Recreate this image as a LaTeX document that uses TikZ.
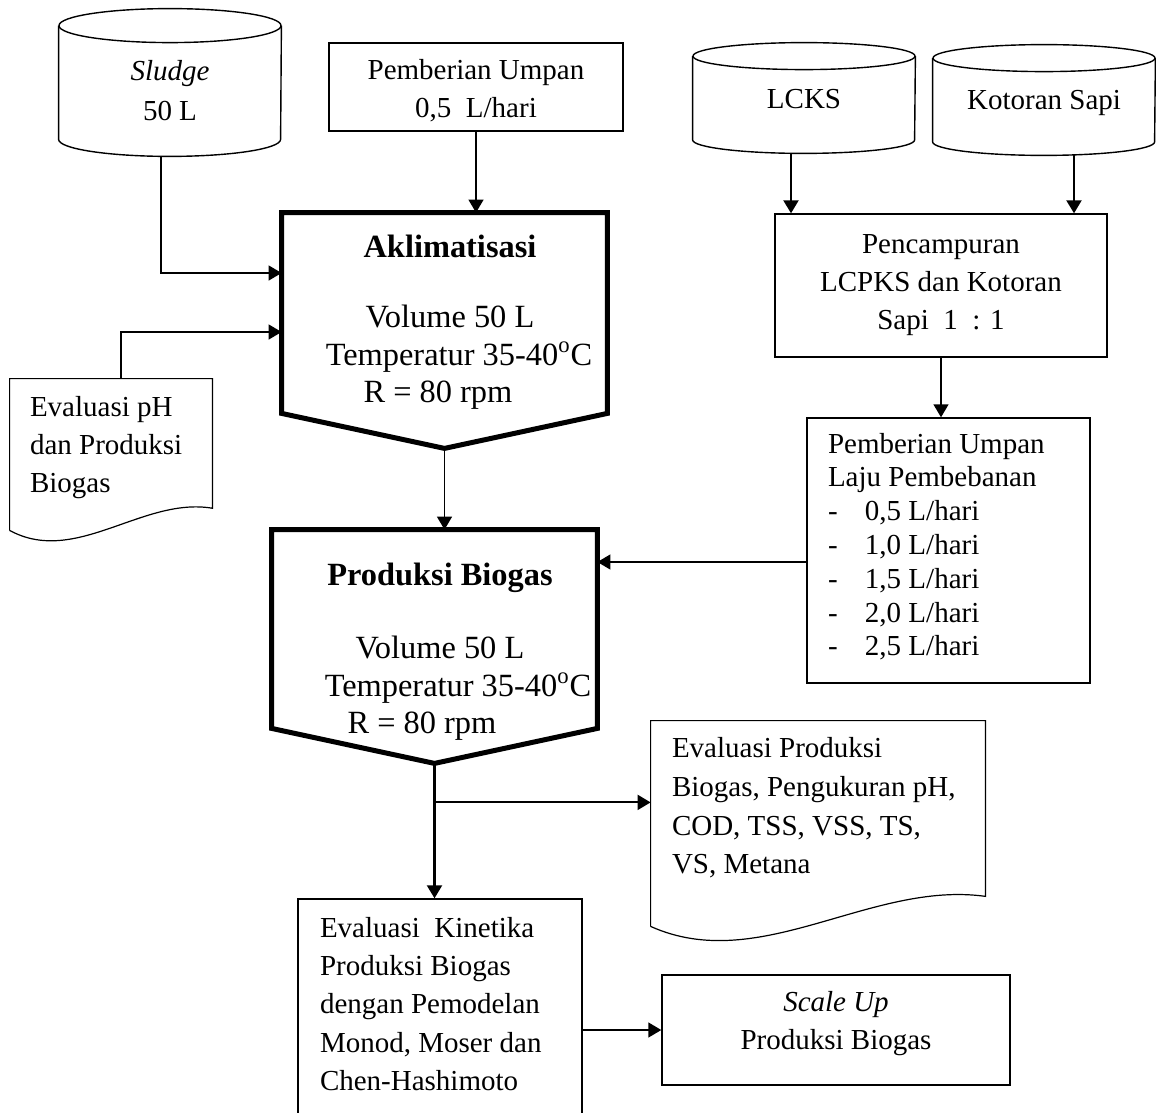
\documentclass[tikz,border=0pt]{standalone}
\usepackage{fontspec}
\setmainfont{Liberation Serif}
\usetikzlibrary{arrows.meta,calc,positioning}

\newcommand{\rate}[1]{\makebox[18.5pt][l]{-}#1 L/hari}
\newcommand{\lowstrut}[1]{\rule[-#1]{0pt}{#1}}

\begin{document}
\begin{tikzpicture}[x=0.5pt,y=0.5pt,>={Triangle[length=6.5pt,width=7.5pt]},
    every node/.style={font=\fontsize{14.5pt}{19pt}\selectfont}]
    \tikzstyle{procbox}=[rectangle,draw,line width=0.7pt,inner sep=0pt,align=center]
    \tikzstyle{drum}=[rectangle,inner sep=0pt,align=center,minimum width=111pt]
    \tikzstyle{penta}=[rectangle,inner sep=0pt,minimum width=162.5pt]
    \tikzstyle{pentatext}=[align=center,xshift=2.75pt,font=\fontsize{16.2pt}{18.75pt}\selectfont]
    \tikzstyle{doc}=[rectangle,inner sep=0pt]
    \tikzstyle{flow}=[->,line width=0.7pt]
    \tikzstyle{boldflow}=[->,line width=1.1pt]

    \useasboundingbox (0,0) rectangle (1156,-1113);

    % tank nodes
    \node[drum,minimum height=65pt,font=\fontsize{14.5pt}{20pt}\selectfont] (sludge) at (170,-91) {\textit{Sludge}\\50 L};
    \node[drum,minimum height=48.25pt] (lcks) at (804,-104.75) {LCKS\lowstrut{6pt}};
    \node[drum,minimum height=48.25pt] (kotoran) at (1044,-106.75) {Kotoran Sapi\lowstrut{7.1pt}};
    \foreach \n/\ry in {sludge/8.5pt,lcks/6.75pt,kotoran/6.75pt} {
      \draw[line width=0.7pt] (\n.north west) -- ([yshift=\ry]\n.south west)
        arc[start angle=180,end angle=360,x radius=55.5pt,y radius=\ry] -- (\n.north east);
      \draw[line width=0.7pt] (\n.north) ellipse[x radius=55.5pt,y radius=\ry];
    }

    % process nodes
    \node[procbox,minimum width=147pt,minimum height=44pt] (umpan) at (476,-87) {\rule{0pt}{13.9pt}Pemberian Umpan\\0,5\ \ L/hari};
    \node[procbox,minimum width=166pt,minimum height=71.5pt] (mix) at (941,-285.5) {Pencampuran\\LCPKS dan Kotoran\\Sapi\ \ 1\ \ : 1};
    \node[procbox,minimum width=141.5pt,minimum height=132.5pt,text width=120.5pt,align=flush left,inner xsep=10.5pt,
      font=\fontsize{14.5pt}{16.9pt}\selectfont] (laju) at (948.5,-550.5)
      {Pemberian Umpan\\Laju Pembebanan\\\rate{0,5}\\\rate{1,0}\\\rate{1,5}\\\rate{2,0}\\\rate{2,5}\lowstrut{6pt}};
    \node[procbox,minimum width=142pt,minimum height=109.5pt,text width=120pt,align=flush left,inner xsep=11pt,
      font=\fontsize{14.5pt}{19.1pt}\selectfont] (kin) at (440,-1008.5)
      {Evaluasi\ \ Kinetika\\Produksi Biogas\\dengan Pemodelan\\Monod, Moser dan\\Chen-Hashimoto\lowstrut{4.6pt}};
    \node[procbox,minimum width=174pt,minimum height=55pt] (scaleup) at (836,-1030) {\textit{Scale Up}\\Produksi Biogas\lowstrut{9.1pt}};

    % reactor nodes
    \node[penta,minimum height=100pt,label={[pentatext,yshift=-4.75pt]center:{\textbf{Aklimatisasi}\\[16.25pt]Volume 50 L\\\hspace*{9pt}Temperatur 35-40\textsuperscript{o}C\\R = 80 rpm\hspace*{12pt}}}] (aklim) at (444.5,-313) {};
    \node[penta,minimum height=99pt,label={[pentatext,yshift=-11.5pt]center:{\textbf{Produksi Biogas}\\[17.75pt]Volume 50 L\\\hspace*{18pt}Temperatur 35-40\textsuperscript{o}C\\R = 80 rpm\hspace*{18pt}}}] (prod) at (434.5,-629) {};
    \foreach \n in {aklim,prod} {
      \coordinate (\n-tip) at ($(\n.south)+(0,-35)$);
      \draw[line width=2.5pt] (\n.north west) -- (\n.north east) -- (\n.south east)
        -- (\n-tip) -- (\n.south west) -- cycle;
    }

    % document nodes
    \node[doc,minimum width=101pt,minimum height=75.5pt,label={[align=flush left,text width=81pt,yshift=3.25pt]center:{Evaluasi pH\\dan Produksi\\Biogas}}] (evph) at (111,-454.5) {};
    \node[doc,minimum width=167pt,minimum height=102.5pt,label={[align=flush left,text width=146pt,yshift=7.75pt,font=\fontsize{14.5pt}{19.3pt}\selectfont]center:{Evaluasi Produksi\\Biogas, Pengukuran pH,\\COD, TSS, VSS, TS,\\VS, Metana}}] (evprod) at (818,-823.5) {};
    \foreach \n/\up/\dn in {evph/34/36,evprod/46/49} {
      \draw[line width=0.6pt] (\n.south west) -- (\n.north west) -- (\n.north east)
        -- ($(\n.north east)!0.854!(\n.south east)$)
        .. controls ($(\n.south west)!0.656!(\n.south east)+(0,\up)$)
        and ($(\n.south west)!0.326!(\n.south east)+(0,-\dn)$) .. (\n.south west);
    }

    % connect the tanks and the feed with the acclimatisation step
    \draw[flow] ($(sludge.south)+(-9,0)$) |- ($(aklim.west)+(0,40)$);
    \draw[flow] ($(evph.north)+(10,0)$) |- ($(aklim.west)+(0,-19)$);
    \draw[flow] (umpan.south) -- (umpan.south |- aklim.north);
    \draw[flow] (aklim-tip) -- (aklim-tip |- prod.north);

    % mixing line on the right
    \draw[boldflow] ($(lcks.south)+(-13,0)$) -- ($(mix.north)+(-150,0)$);
    \draw[boldflow] ($(kotoran.south)+(30,0)$) -- ($(mix.north)+(133,0)$);
    \draw[flow] (mix.south) -- (mix.south |- laju.north);
    \coordinate (feed) at ($(laju.west)+(0,-11.5)$);
    \draw[flow] (feed) -- (feed -| prod.east);

    % outputs of the biogas production
    \coordinate (split) at ($(prod-tip)+(0,-39)$);
    \draw[boldflow] (prod-tip) -- (prod-tip |- kin.north);
    \draw[->,line width=1pt] (split) -- (split -| evprod.west);
    \draw[flow] (kin.east |- scaleup.west) -- (scaleup.west);
\end{tikzpicture}
\end{document}
